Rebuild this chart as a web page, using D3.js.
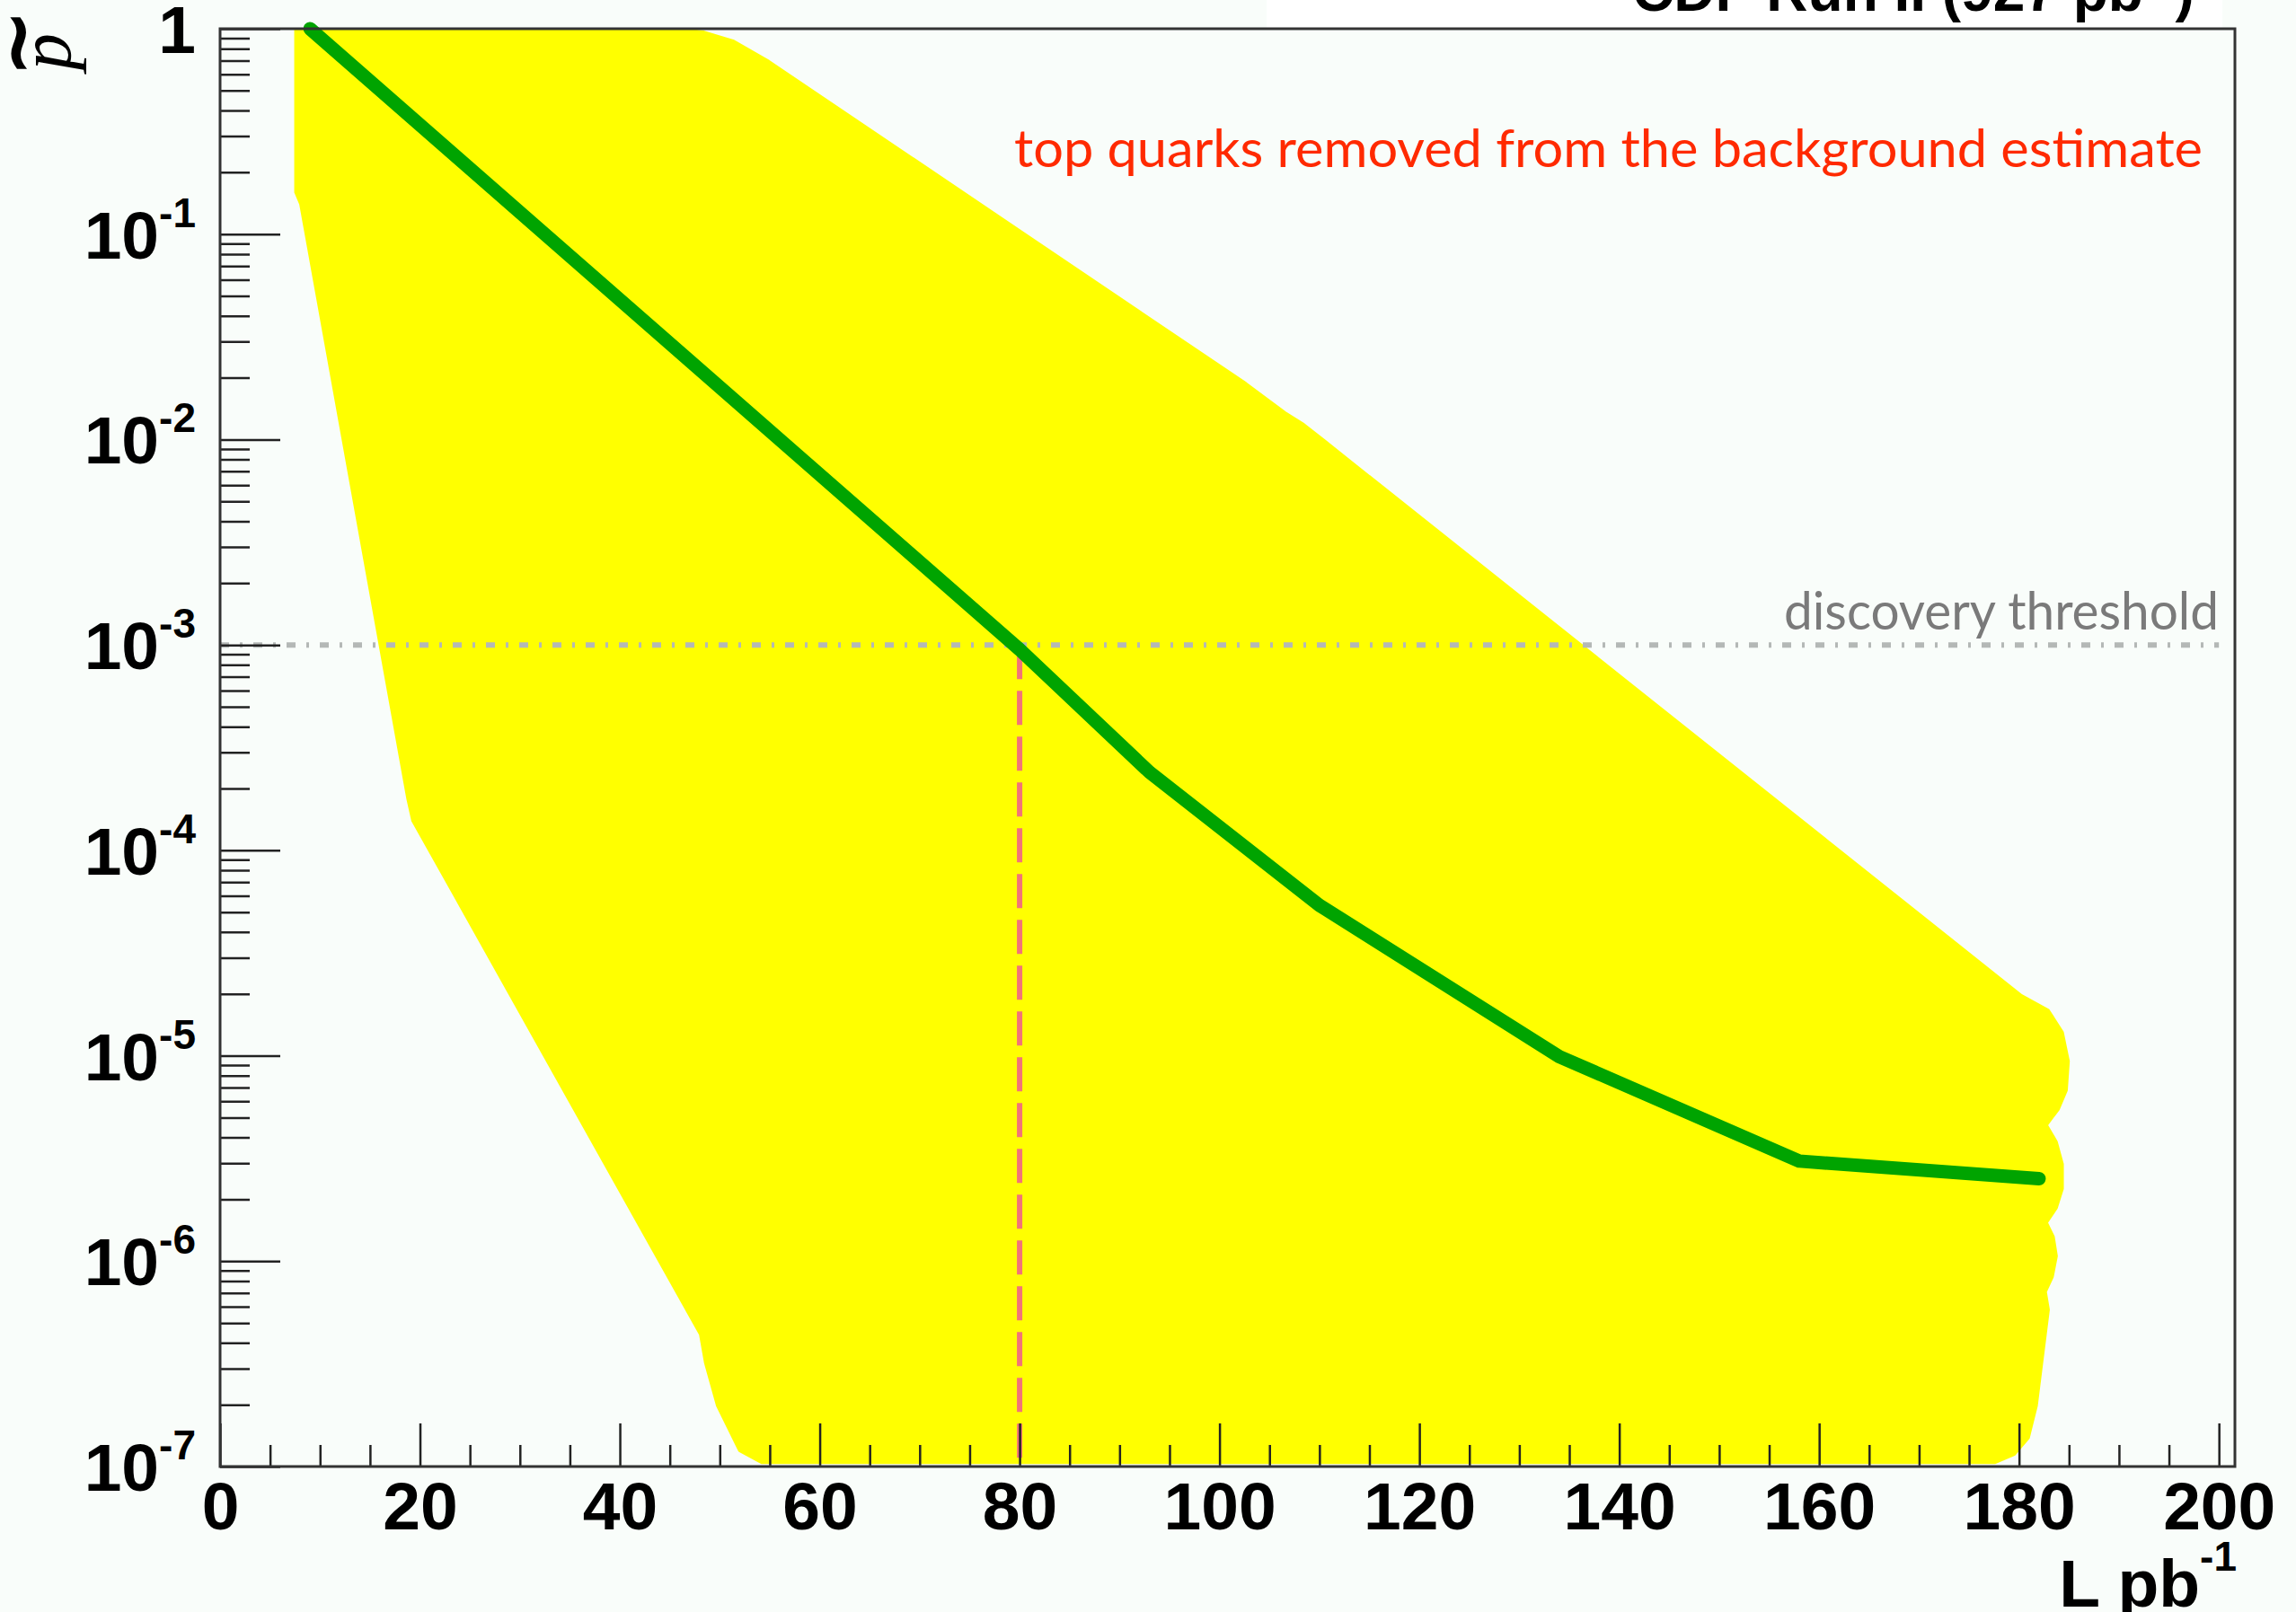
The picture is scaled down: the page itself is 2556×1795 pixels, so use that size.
<!DOCTYPE html>
<html>
<head>
<meta charset="utf-8">
<script src="https://cdn.jsdelivr.net/npm/d3@7"></script>
<style>
    body { margin: 0; background: #f9fdfa; }
    svg { display: block; }
</style>
</head>
<body>
<div id="chart"></div>
<script>
// Data

var lumi = [ 9, 80, 93, 110, 134, 158, 182 ];
var pTilde = [ 1.0, 9.5e-4, 2.4e-4, 5.4e-5, 9.9e-6, 3.07e-6, 2.52e-6 ];

// yellow band, upper / right edge (left to right, then down)
var bandUpperL = [ 7.6, 45.4, 48.4, 51.3, 54.9, 102.6, 106.5, 108.4, 110.5,
    180.2, 182.9, 184.3, 184.9, 184.7, 183.9, 182.7, 183.7, 184.3, 184.3, 183.7, 182.7,
    183.4, 183.7, 183.3, 182.6, 182.9, 181.7, 180.9, 179.5, 177.6 ];
var bandUpperP = [ 1, 1, 0.96, 0.87, 0.69, 0.0187, 0.0135, 0.0118, 0.0098,
    1.96e-5, 1.66e-5, 1.3e-5, 9.4e-6, 6.8e-6, 5.5e-6, 4.6e-6, 3.8e-6, 2.97e-6, 2.25e-6, 1.82e-6, 1.54e-6,
    1.31e-6, 1.06e-6, 8.4e-7, 7.1e-7, 5.8e-7, 1.98e-7, 1.38e-7, 1.15e-7, 1.05e-7 ];
// lower / left edge (right to left, then up)
var bandLowerL = [ 54.2, 52.0, 49.8, 48.6, 48.1, 19.3, 18.8, 8.1, 7.6 ];
var bandLowerP = [ 1.05e-7, 1.2e-7, 1.98e-7, 3.2e-7, 4.4e-7, 1.4e-4, 1.8e-4, 0.14, 0.16 ];

var threshold = 1e-3,
    thresholdL = 80;

var xMajor = [ 0, 20, 40, 60, 80, 100, 120, 140, 160, 180, 200 ];
var xMinor = [ 5, 10, 15, 25, 30, 35, 45, 50, 55, 65, 70, 75, 85, 90, 95, 105, 110, 115, 125, 130, 135, 145, 150, 155, 165, 170, 175, 185, 190, 195 ];
var yMajor = [ 1, 1e-1, 1e-2, 1e-3, 1e-4, 1e-5, 1e-6, 1e-7 ];
var yExponents = [ '', '-1', '-2', '-3', '-4', '-5', '-6', '-7' ];
var yMinorMult = [ 2, 3, 4, 5, 6, 7, 8, 9 ];

var W = 2556, H = 1795,
    plotL = 245, plotR = 2488, plotT = 32, plotB = 1633;

var svg = d3.select( '#chart' )
    .append( 'svg' )
    .attr( 'width', W )
    .attr( 'height', H );

svg.append( 'rect' )
    .attr( 'width', W )
    .attr( 'height', H )
    .attr( 'fill', '#f9fdfa' );

// white strip behind the (cut off) title
svg.append( 'rect' )
    .attr( 'x', 1410 )
    .attr( 'y', 0 )
    .attr( 'width', 1064 )
    .attr( 'height', 31 )
    .attr( 'fill', '#ffffff' );

var title = svg.append( 'text' )
    .attr( 'x', 1817 )
    .attr( 'y', 12 )
    .attr( 'font-family', 'Liberation Sans, Arial, sans-serif' )
    .attr( 'font-weight', 'bold' )
    .attr( 'font-size', 64 )
    .attr( 'fill', '#000' );
title.append( 'tspan' ).text( 'CDF Run II (927 pb' );
title.append( 'tspan' ).attr( 'font-size', 40 ).attr( 'dy', -30 ).text( '-1' );
title.append( 'tspan' ).attr( 'dy', 30 ).text( ')' );

//////////////////////////////////////////
// Scales

var x = d3.scaleLinear()
    .domain( [ 0, 201.6 ] )
    .range( [ plotL, plotR ] );

var y = d3.scaleLog()
    .domain( [ 1e-7, 1 ] )
    .range( [ plotB, plotT ] );

svg.append( 'defs' )
    .append( 'clipPath' )
    .attr( 'id', 'plot-clip' )
    .append( 'rect' )
    .attr( 'x', plotL )
    .attr( 'y', plotT )
    .attr( 'width', plotR - plotL )
    .attr( 'height', plotB - plotT );

//////////////////////////////////////////
// Band

var bandPts = bandUpperL.map( ( l, i ) => [ l, bandUpperP[ i ] ] )
    .concat( bandLowerL.map( ( l, i ) => [ l, bandLowerP[ i ] ] ) );

svg.append( 'path' )
    .datum( bandPts )
    .attr( 'clip-path', 'url(#plot-clip)' )
    .attr( 'fill', '#ffff00' )
    .attr( 'stroke', '#ffff00' )
    .attr( 'stroke-width', 4 )
    .attr( 'stroke-linejoin', 'round' )
    .attr( 'd', d3.line()
        .x( d => x( d[ 0 ] ) )
        .y( d => y( d[ 1 ] ) )
        .curve( d3.curveLinearClosed ) );

//////////////////////////////////////////
// Threshold lines

svg.append( 'line' )
    .attr( 'x1', x( 0 ) )
    .attr( 'x2', x( 200 ) )
    .attr( 'y1', y( threshold ) )
    .attr( 'y2', y( threshold ) )
    .attr( 'stroke', '#b4b8b6' )
    .attr( 'stroke-width', 6 )
    .attr( 'stroke-dasharray', '10,12,3,12' );

svg.append( 'text' )
    .attr( 'x', 2470 )
    .attr( 'y', 701 )
    .attr( 'text-anchor', 'end' )
    .attr( 'font-family', 'Lato, Open Sans, sans-serif' )
    .attr( 'font-size', 58 )
    .attr( 'fill', '#7a7a7a' )
    .attr( 'textLength', 484 )
    .attr( 'lengthAdjust', 'spacingAndGlyphs' )
    .text( 'discovery threshold' );

svg.append( 'line' )
    .attr( 'x1', x( thresholdL ) )
    .attr( 'x2', x( thresholdL ) )
    .attr( 'y1', y( threshold ) )
    .attr( 'y2', y( 1e-7 ) )
    .attr( 'stroke', '#f27478' )
    .attr( 'stroke-width', 6 )
    .attr( 'stroke-dasharray', '38,13' );

//////////////////////////////////////////
// Green curve

svg.append( 'path' )
    .datum( lumi.map( ( l, i ) => [ l, pTilde[ i ] ] ) )
    .attr( 'fill', 'none' )
    .attr( 'stroke', '#00a400' )
    .attr( 'stroke-width', 15 )
    .attr( 'stroke-linecap', 'round' )
    .attr( 'stroke-linejoin', 'round' )
    .attr( 'd', d3.line()
        .x( d => x( d[ 0 ] ) )
        .y( d => y( d[ 1 ] ) ) );

svg.append( 'text' )
    .attr( 'x', 1129 )
    .attr( 'y', 186 )
    .attr( 'font-family', 'Lato, Open Sans, sans-serif' )
    .attr( 'font-size', 58 )
    .attr( 'fill', '#ff2a00' )
    .attr( 'textLength', 1323 )
    .attr( 'lengthAdjust', 'spacingAndGlyphs' )
    .text( 'top quarks removed from the background estimate' );

//////////////////////////////////////////
// Axes

function styleAxis( g ){
    g.select( '.domain' ).remove();
    g.selectAll( '.tick line' )
        .attr( 'stroke', '#222' )
        .attr( 'stroke-width', 2.5 );
    g.selectAll( '.tick text' )
        .attr( 'font-family', 'Liberation Sans, Arial, sans-serif' )
        .attr( 'font-weight', 'bold' )
        .attr( 'font-size', 75 )
        .attr( 'fill', '#000' );
}

svg.append( 'g' )
    .attr( 'transform', 'translate(0,' + plotB + ')' )
    .call( d3.axisBottom( x ).tickValues( xMajor ).tickSize( -48 ).tickPadding( 17 ).tickFormat( d3.format( 'd' ) ) )
    .call( styleAxis );

svg.append( 'g' )
    .attr( 'transform', 'translate(0,' + plotB + ')' )
    .call( d3.axisBottom( x ).tickValues( xMinor ).tickSize( -24 ).tickFormat( '' ) )
    .call( styleAxis );

svg.append( 'g' )
    .attr( 'transform', 'translate(' + plotL + ',0)' )
    .call( d3.axisLeft( y ).tickValues( yMajor ).tickSize( -67 ).tickFormat( '' ) )
    .call( styleAxis );

var yMinor = [];
yMajor.slice( 1 ).forEach( d => yMinorMult.forEach( m => yMinor.push( m * d ) ) );

svg.append( 'g' )
    .attr( 'transform', 'translate(' + plotL + ',0)' )
    .call( d3.axisLeft( y ).tickValues( yMinor ).tickSize( -33 ).tickFormat( '' ) )
    .call( styleAxis );

// y labels with superscript exponents
svg.append( 'g' )
    .selectAll( 'text' )
    .data( yMajor )
    .join( 'text' )
    .attr( 'x', 218 )
    .attr( 'y', d => y( d ) + 27 )
    .attr( 'text-anchor', 'end' )
    .attr( 'font-family', 'Liberation Sans, Arial, sans-serif' )
    .attr( 'font-weight', 'bold' )
    .attr( 'font-size', 75 )
    .attr( 'fill', '#000' )
    .each( function( d, i ){
        var t = d3.select( this );
        if( i === 0 ){
            t.text( '1' );
            return;
        }
        t.append( 'tspan' ).text( '10' );
        t.append( 'tspan' )
            .attr( 'font-size', 46 )
            .attr( 'dy', -35 )
            .text( yExponents[ i ] );
    } );

// frame
svg.append( 'rect' )
    .attr( 'x', plotL )
    .attr( 'y', plotT )
    .attr( 'width', plotR - plotL )
    .attr( 'height', plotB - plotT )
    .attr( 'fill', 'none' )
    .attr( 'stroke', '#333' )
    .attr( 'stroke-width', 3 );

//////////////////////////////////////////
// Axis titles

var xTitle = svg.append( 'text' )
    .attr( 'x', 2490 )
    .attr( 'y', 1789 )
    .attr( 'text-anchor', 'end' )
    .attr( 'font-family', 'Liberation Sans, Arial, sans-serif' )
    .attr( 'font-weight', 'bold' )
    .attr( 'font-size', 75 )
    .attr( 'fill', '#000' );
xTitle.append( 'tspan' ).text( 'L pb' );
xTitle.append( 'tspan' ).attr( 'font-size', 46 ).attr( 'dy', -40 ).text( '-1' );

var yTitle = svg.append( 'g' )
    .attr( 'transform', 'translate(78,37) rotate(-90)' );
yTitle.append( 'text' )
    .attr( 'text-anchor', 'end' )
    .attr( 'font-family', 'Liberation Serif, Times New Roman, serif' )
    .attr( 'font-style', 'italic' )
    .attr( 'font-size', 82 )
    .attr( 'fill', '#000' )
    .text( 'p' );
yTitle.append( 'text' )
    .attr( 'x', -11 )
    .attr( 'y', -28 )
    .attr( 'text-anchor', 'middle' )
    .attr( 'font-family', 'DejaVu Sans, sans-serif' )
    .attr( 'font-weight', 'bold' )
    .attr( 'font-size', 92 )
    .attr( 'fill', '#000' )
    .text( '~' );
</script>
</body>
</html>
